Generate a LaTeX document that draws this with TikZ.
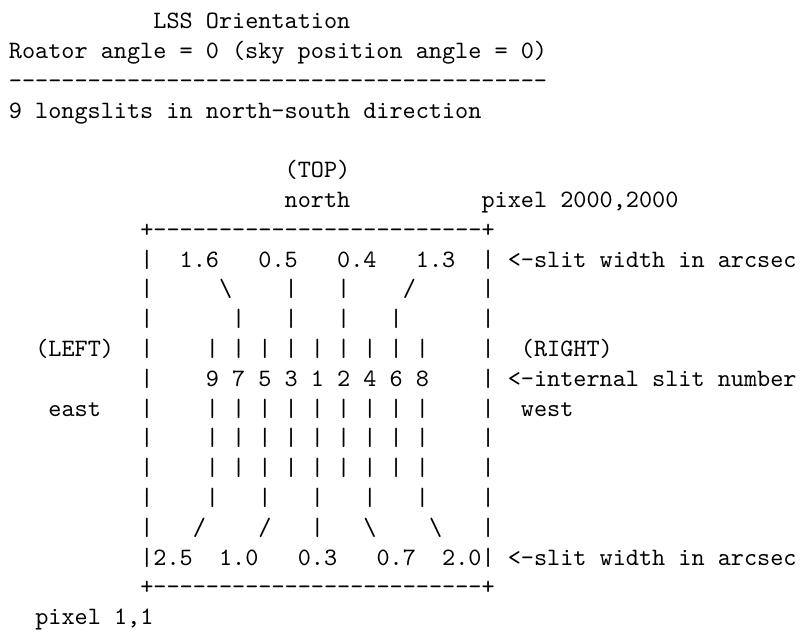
\documentclass[tikz,border=0pt]{standalone}
\ExplSyntaxOn
\cs_new:Npn \dashrun #1 { \prg_replicate:nn {#1} { - \kern 0pt } }
\ExplSyntaxOff
\tikzset{
  tt/.style={anchor=base west, inner sep=0pt, outer sep=0pt,
    font=\fontsize{10}{12}\selectfont\ttfamily\frenchspacing}
}
\newcommand\txt[4]{\node[tt] (#1) at (9pt+#2*13.125pt, -28.6pt-#3*29.8pt) {\scalebox{2.5}{#4}};}
\begin{document}
\begin{tikzpicture}
\useasboundingbox (0,0) rectangle (800pt,-634pt);
\fill[white] (0,0) rectangle (800pt,-634pt);
% header
\txt{title}{11}{0}{LSS Orientation}
\txt{rot}{0}{1}{Roator angle = 0 (sky position angle = 0)}
\txt{rule}{0}{2}{\dashrun{41}}
\txt{dir}{0}{3}{9 longslits in north-south direction}
% top labels
\txt{top}{21}{5}{(TOP)}
\txt{north}{21}{6}{north}
\txt{pixtr}{36}{6}{pixel 2000,2000}
% top border
\txt{topedge}{10}{7}{+\dashrun{25}+}
% row 8
\txt{l8}{10}{8}{|}
\txt{w16}{13}{8}{1.6}
\txt{w05}{19}{8}{0.5}
\txt{w04}{25}{8}{0.4}
\txt{w13}{31}{8}{1.3}
\txt{r8}{36}{8}{|}
\txt{swtop}{38}{8}{<-slit width in arcsec}
% row 9
\txt{l9}{10}{9}{|}
\txt{a9a}{16}{9}{\textbackslash}
\txt{a9b}{21}{9}{|}
\txt{a9c}{25}{9}{|}
\txt{a9d}{30}{9}{/}
\txt{r9}{36}{9}{|}
% row 10
\txt{l10}{10}{10}{|}
\txt{a10a}{17}{10}{|}
\txt{a10b}{21}{10}{|}
\txt{a10c}{25}{10}{|}
\txt{a10d}{29}{10}{|}
\txt{r10}{36}{10}{|}
% row 11
\txt{left}{2}{11}{(LEFT)}
\txt{l11}{10}{11}{|}
\txt{b11}{15}{11}{| | | | | | | | |}
\txt{r11}{36}{11}{|}
\txt{right}{39}{11}{(RIGHT)}
% row 12
\txt{l12}{10}{12}{|}
\txt{nums}{15}{12}{9 7 5 3 1 2 4 6 8}
\txt{r12}{36}{12}{|}
\txt{isn}{38}{12}{<-internal slit number}
% row 13
\txt{east}{3}{13}{east}
\txt{l13}{10}{13}{|}
\txt{b13}{15}{13}{| | | | | | | | |}
\txt{r13}{36}{13}{|}
\txt{west}{39}{13}{west}
% rows 14-15
\txt{l14}{10}{14}{|}
\txt{b14}{15}{14}{| | | | | | | | |}
\txt{r14}{36}{14}{|}
\txt{l15}{10}{15}{|}
\txt{b15}{15}{15}{| | | | | | | | |}
\txt{r15}{36}{15}{|}
% row 16
\txt{l16}{10}{16}{|}
\txt{c16a}{15}{16}{|}
\txt{c16b}{19}{16}{|}
\txt{c16c}{23}{16}{|}
\txt{c16d}{27}{16}{|}
\txt{c16e}{31}{16}{|}
\txt{r16}{36}{16}{|}
% row 17
\txt{l17}{10}{17}{|}
\txt{c17a}{14}{17}{/}
\txt{c17b}{19}{17}{/}
\txt{c17c}{23}{17}{|}
\txt{c17d}{27}{17}{\textbackslash}
\txt{c17e}{32}{17}{\textbackslash}
\txt{r17}{36}{17}{|}
% row 18
\txt{w25}{10}{18}{|2.5}
\txt{w10}{16}{18}{1.0}
\txt{w03}{22}{18}{0.3}
\txt{w07}{28}{18}{0.7}
\txt{w20}{33}{18}{2.0|}
\txt{swbot}{38}{18}{<-slit width in arcsec}
% bottom border
\txt{botedge}{10}{19}{+\dashrun{25}+}
\txt{pixbl}{2}{20}{pixel 1,1}
\end{tikzpicture}
\end{document}
